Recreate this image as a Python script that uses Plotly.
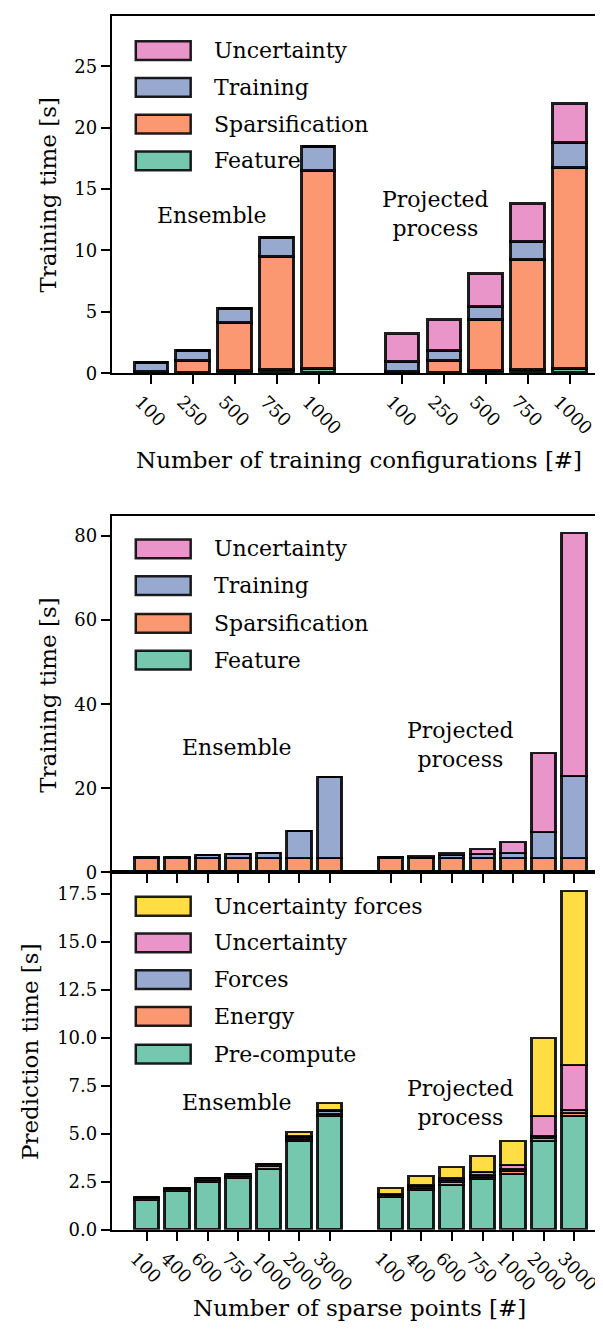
import plotly.graph_objects as go

# ---------------- data ----------------
train_cfg = ["100", "250", "500", "750", "1000"]
ens1_feature = [0.05, 0.05, 0.15, 0.30, 0.35]
ens1_spars = [0.05, 0.92, 3.98, 9.17, 16.13]
ens1_training = [0.74, 0.86, 1.07, 1.53, 1.94]
ens1_uncert = [0.0, 0.0, 0.0, 0.0, 0.0]
pp1_feature = [0.05, 0.05, 0.15, 0.27, 0.35]
pp1_spars = [0.05, 0.92, 4.16, 8.98, 16.37]
pp1_training = [0.79, 0.86, 1.08, 1.48, 2.02]
pp1_uncert = [2.35, 2.48, 2.70, 3.05, 3.16]

sparse_pts = ["100", "400", "600", "750", "1000", "2000", "3000"]
ens2_feature = [0.05, 0.05, 0.05, 0.05, 0.05, 0.05, 0.05]
ens2_spars = [3.30, 3.30, 3.35, 3.35, 3.35, 3.35, 3.35]
ens2_training = [0.20, 0.35, 0.60, 0.85, 1.30, 6.45, 19.2]
ens2_uncert = [0.0, 0.0, 0.0, 0.0, 0.0, 0.0, 0.0]
pp2_feature = [0.05, 0.05, 0.05, 0.05, 0.05, 0.05, 0.05]
pp2_spars = [3.30, 3.30, 3.35, 3.35, 3.35, 3.35, 3.35]
pp2_training = [0.20, 0.40, 0.60, 0.90, 1.30, 6.20, 19.4]
pp2_uncert = [0.0, 0.10, 0.50, 1.20, 2.50, 18.7, 57.8]

ens3_pre = [1.55, 2.00, 2.48, 2.68, 3.15, 4.60, 5.88]
ens3_energy = [0.08, 0.08, 0.10, 0.12, 0.12, 0.12, 0.12]
ens3_forces = [0.07, 0.07, 0.07, 0.10, 0.12, 0.10, 0.15]
ens3_uncert = [0.0, 0.0, 0.0, 0.0, 0.0, 0.05, 0.07]
ens3_uforces = [0.0, 0.0, 0.0, 0.0, 0.0, 0.20, 0.35]
pp3_pre = [1.68, 2.07, 2.33, 2.62, 2.90, 4.60, 5.92]
pp3_energy = [0.08, 0.10, 0.12, 0.12, 0.12, 0.13, 0.15]
pp3_forces = [0.06, 0.10, 0.12, 0.10, 0.10, 0.12, 0.15]
pp3_uncert = [0.03, 0.05, 0.08, 0.12, 0.25, 1.05, 2.35]
pp3_uforces = [0.30, 0.43, 0.60, 0.86, 1.23, 4.08, 9.05]

train_labels = ["Feature", "Sparsification", "Training", "Uncertainty"]
pred_labels = ["Pre-compute", "Energy", "Forces", "Uncertainty", "Uncertainty forces"]

# ---------------- style ----------------
W, H = 603, 1332
FONT = "DejaVu Serif"
GREEN = "rgba(102,194,165,0.9)"
ORANGE = "rgba(252,141,98,0.9)"
BLUE = "rgba(141,160,203,0.9)"
PINK = "rgba(231,138,195,0.9)"
YELLOW = "rgba(255,217,47,0.9)"
EDGE = "rgba(0,0,0,0.88)"
train_colors = [GREEN, ORANGE, BLUE, PINK]
pred_colors = [GREEN, ORANGE, BLUE, PINK, YELLOW]


def px_x(p):
    return p / W


def px_y(p):
    return 1 - p / H


def positions(n):
    return list(range(n)) + list(range(n + 1, 2 * n + 1))


fig = go.Figure()


def add_stack(xa, ya, cats, ens_layers, pp_layers, colors, names):
    xs = positions(len(cats))
    for layer_e, layer_p, c, nm in zip(ens_layers, pp_layers, colors, names):
        fig.add_trace(go.Bar(
            x=xs, y=list(layer_e) + list(layer_p), width=0.8,
            marker=dict(color=c, line=dict(color=EDGE, width=2.5)),
            name=nm, showlegend=False, xaxis=xa, yaxis=ya,
        ))


add_stack("x", "y", train_cfg,
          [ens1_feature, ens1_spars, ens1_training, ens1_uncert],
          [pp1_feature, pp1_spars, pp1_training, pp1_uncert],
          train_colors, train_labels)
add_stack("x2", "y2", sparse_pts,
          [ens2_feature, ens2_spars, ens2_training, ens2_uncert],
          [pp2_feature, pp2_spars, pp2_training, pp2_uncert],
          train_colors, train_labels)
add_stack("x3", "y3", sparse_pts,
          [ens3_pre, ens3_energy, ens3_forces, ens3_uncert, ens3_uforces],
          [pp3_pre, pp3_energy, pp3_forces, pp3_uncert, pp3_uforces],
          pred_colors, pred_labels)

axis_common = dict(
    showline=True, linecolor="black", linewidth=2, mirror=True,
    ticks="outside", ticklen=9, tickwidth=2, tickcolor="black",
    showgrid=False, zeroline=False,
    tickfont=dict(family=FONT, size=18, color="black"),
)
xdom = [px_x(104), px_x(602)]

fig.update_layout(
    width=W, height=H, margin=dict(l=0, r=0, t=0, b=0),
    paper_bgcolor="white", plot_bgcolor="white",
    barmode="stack", bargap=0,
    font=dict(family=FONT, color="black"),
    xaxis=dict(domain=xdom, anchor="y", range=[-0.94, 10.94],
               tickvals=positions(len(train_cfg)), ticktext=train_cfg * 2,
               tickangle=45, ticklabelshift=-11, **axis_common),
    yaxis=dict(domain=[px_y(368), px_y(8)], anchor="x", range=[0, 29.1],
               tickvals=[0, 5, 10, 15, 20, 25], **axis_common),
    xaxis2=dict(domain=xdom, anchor="y2", range=[-1.14, 15.14],
                tickvals=positions(len(sparse_pts)), showticklabels=False,
                **axis_common),
    yaxis2=dict(domain=[px_y(871), px_y(512)], anchor="x2", range=[0, 84.7],
                tickvals=[0, 20, 40, 60, 80], **axis_common),
    xaxis3=dict(domain=xdom, anchor="y3", range=[-1.14, 15.14],
                tickvals=positions(len(sparse_pts)), ticktext=sparse_pts * 2,
                tickangle=45, ticklabelshift=-11, **axis_common),
    yaxis3=dict(domain=[px_y(1231), px_y(871)], anchor="x3", range=[0, 18.6],
                tickvals=[0, 2.5, 5, 7.5, 10, 12.5, 15, 17.5], tickformat=".1f",
                **axis_common),
)

shapes = []
annotations = []


def text(x, y, s, size=22, angle=0, xanchor="center", yanchor="middle"):
    annotations.append(dict(
        x=px_x(x), y=px_y(y), xref="paper", yref="paper", text=s,
        showarrow=False, textangle=angle, xanchor=xanchor, yanchor=yanchor,
        font=dict(family=FONT, size=size, color="black"),
    ))


def legend(labels, colors, y_centers):
    for lab, col, yc in zip(labels, colors, y_centers):
        shapes.append(dict(
            type="rect", xref="paper", yref="paper",
            x0=px_x(128), x1=px_x(183), y0=px_y(yc + 9.5), y1=px_y(yc - 9.5),
            fillcolor=col, line=dict(color=EDGE, width=2.5),
        ))
        text(204, yc, lab, xanchor="left")


legend(train_labels[::-1], train_colors[::-1], [43, 80, 117, 154])
legend(train_labels[::-1], train_colors[::-1], [545, 582, 620, 657])
legend(pred_labels[::-1], pred_colors[::-1], [905, 942, 979, 1016, 1054])

# group labels
text(204, 209, "Ensemble")
text(428, 208, "Projected<br>process")
text(229, 745, "Ensemble")
text(453, 743, "Projected<br>process")
text(229, 1103, "Ensemble")
text(453, 1103, "Projected<br>process")

# axis titles
text(40, 188, "Training time [s]", size=23, angle=-90)
text(40, 692, "Training time [s]", size=23, angle=-90)
text(22, 1051, "Prediction time [s]", size=23, angle=-90)
text(352, 455, "Number of training configurations [#]", size=23)
text(352, 1310, "Number of sparse points [#]", size=23)

fig.update_layout(shapes=shapes, annotations=annotations)
fig.write_html("out.html")
